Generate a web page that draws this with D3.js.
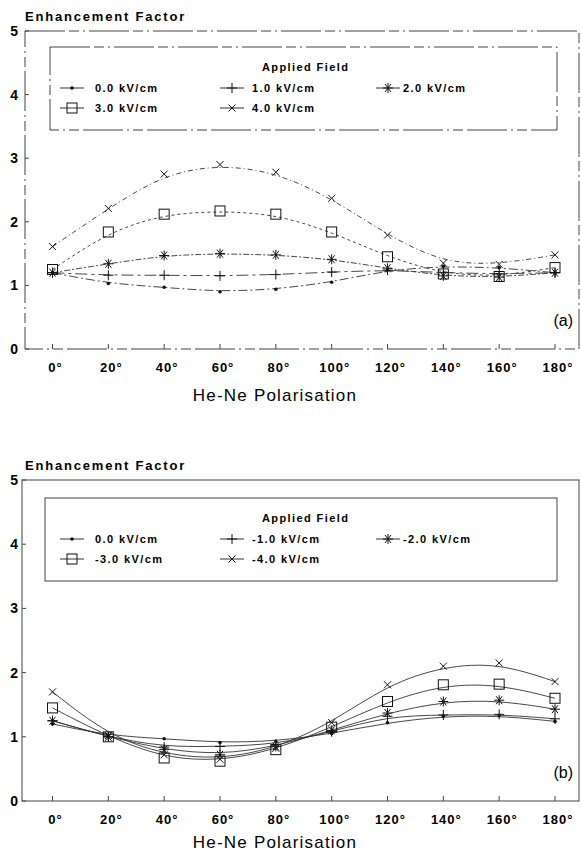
<!DOCTYPE html>
<html>
<head>
<meta charset="utf-8">
<script src="https://cdn.jsdelivr.net/npm/d3@7"></script>
<style>
  body { margin: 0; background: #fff; }
  svg { font-family: "Liberation Sans", Arial, sans-serif; }
</style>
</head>
<body>
<svg id="chart" width="581" height="853"></svg>
<script>
// polarisation angles (degrees)
var angles = [0, 20, 40, 60, 80, 100, 120, 140, 160, 180]
var xTickLabels = ['0°', '20°', '40°', '60°', '80°', '100°', '120°', '140°', '160°', '180°']
var yTicks = [0, 1, 2, 3, 4, 5]

// panel (a): positive applied field
var fieldsA = ['0.0 kV/cm', '1.0 kV/cm', '2.0 kV/cm', '3.0 kV/cm', '4.0 kV/cm']
var a00 = [1.20, 1.03, 0.97, 0.90, 0.94, 1.05, 1.24, 1.30, 1.28, 1.20]
var a10 = [1.20, 1.16, 1.16, 1.15, 1.17, 1.21, 1.24, 1.20, 1.18, 1.20]
var a20 = [1.20, 1.34, 1.47, 1.50, 1.48, 1.41, 1.27, 1.15, 1.13, 1.20]
var a30 = [1.25, 1.84, 2.12, 2.17, 2.12, 1.84, 1.45, 1.18, 1.14, 1.28]
var a40 = [1.61, 2.21, 2.75, 2.90, 2.78, 2.37, 1.79, 1.35, 1.33, 1.48]

// panel (b): negative applied field
var fieldsB = ['0.0 kV/cm', '-1.0 kV/cm', '-2.0 kV/cm', '-3.0 kV/cm', '-4.0 kV/cm']
var b00 = [1.20, 1.02, 0.97, 0.91, 0.93, 1.05, 1.22, 1.32, 1.33, 1.24]
var b10 = [1.25, 1.00, 0.84, 0.85, 0.88, 1.08, 1.32, 1.34, 1.35, 1.28]
var b20 = [1.25, 1.00, 0.80, 0.72, 0.85, 1.10, 1.37, 1.55, 1.57, 1.43]
var b30 = [1.45, 1.00, 0.67, 0.62, 0.80, 1.15, 1.55, 1.81, 1.82, 1.60]
var b40 = [1.70, 1.02, 0.72, 0.65, 0.82, 1.22, 1.81, 2.10, 2.15, 1.86]

var svg = d3.select('#chart')

var x = d3.scaleLinear().domain([0, 180]).range([52.5, 555])

var markers = ['dot', 'plus', 'star', 'square', 'cross']
var dashesA = ['9,3,2,3', '12,4,3,4', '6,2,2,2', '3,3', '5,3,1,3']

function drawMarker (g, type, cx, cy) {
  var m = g.append('g').attr('transform', 'translate(' + cx + ',' + cy + ')')
    .attr('stroke', '#111').attr('fill', 'none').attr('stroke-width', 1)
  if (type === 'dot') {
    m.append('circle').attr('r', 1.8).attr('fill', '#111').attr('stroke', 'none')
  } else if (type === 'plus') {
    m.append('path').attr('d', 'M-5,0H5M0,-5V5')
  } else if (type === 'star') {
    m.append('path').attr('d', 'M-5,0H5M-3,-4L3,4M3,-4L-3,4M0,-5V5')
  } else if (type === 'square') {
    m.append('rect').attr('x', -5).attr('y', -5).attr('width', 10).attr('height', 10)
  } else {
    m.append('path').attr('d', 'M-3.5,-3.5L3.5,3.5M3.5,-3.5L-3.5,3.5')
  }
}

function drawPanel (cfg) {
  var g = svg.append('g')
  var y = d3.scaleLinear().domain([0, 5]).range([cfg.bottom, cfg.top])

  // frame
  g.append('rect')
    .attr('x', cfg.left).attr('y', cfg.top)
    .attr('width', 579 - cfg.left).attr('height', cfg.bottom - cfg.top)
    .attr('fill', 'none').attr('stroke', '#444').attr('stroke-width', 1)
    .style('stroke-dasharray', cfg.frameDash)

  // y ticks
  g.append('g').selectAll('line').data(yTicks).enter().append('line')
    .attr('x1', cfg.left).attr('x2', cfg.left + 4)
    .attr('y1', function (d) { return y(d) }).attr('y2', function (d) { return y(d) })
    .attr('stroke', '#444')
  g.append('g').selectAll('text').data(yTicks).enter().append('text')
    .attr('x', 18).attr('y', function (d) { return y(d) + 5 })
    .attr('text-anchor', 'end').attr('font-size', 14).attr('font-weight', 'bold')
    .text(function (d) { return d })

  // x ticks
  g.append('g').selectAll('line').data(angles).enter().append('line')
    .attr('x1', function (d) { return x(d) }).attr('x2', function (d) { return x(d) })
    .attr('y1', cfg.bottom).attr('y2', cfg.bottom - 5)
    .attr('stroke', '#444')
  g.append('g').selectAll('text').data(angles).enter().append('text')
    .attr('x', function (d) { return x(d) + 3 }).attr('y', cfg.bottom + 23)
    .attr('text-anchor', 'middle').attr('font-size', 13).attr('font-weight', 'bold')
    .style('letter-spacing', '1px')
    .text(function (d, i) { return xTickLabels[i] })

  g.append('text')
    .attr('x', 25).attr('y', cfg.top - 10)
    .attr('font-size', 13).attr('font-weight', 'bold').style('letter-spacing', '1.8px')
    .text('Enhancement Factor')

  g.append('text')
    .attr('x', 275).attr('y', cfg.titleY)
    .attr('text-anchor', 'middle').attr('font-size', 17).style('letter-spacing', '1.2px')
    .text('He-Ne Polarisation')

  g.append('text')
    .attr('x', 573).attr('y', cfg.bottom - 23)
    .attr('text-anchor', 'end').attr('font-size', 16)
    .text(cfg.tag)

  // legend
  var lg = g.append('g')
  lg.append('rect')
    .attr('x', cfg.legLeft).attr('y', cfg.legTop)
    .attr('width', 557 - cfg.legLeft).attr('height', 83)
    .attr('fill', '#fff').attr('stroke', '#444').attr('stroke-width', 1)
    .style('stroke-dasharray', cfg.frameDash)
  lg.append('text')
    .attr('x', 262).attr('y', cfg.legTop + 24)
    .attr('font-size', 11).attr('font-weight', 'bold').style('letter-spacing', '1.4px')
    .text('Applied Field')
  var colSym = [72, 232, 388], colText = [95, 252, 403]
  cfg.fields.forEach(function (f, i) {
    var col = i < 3 ? i : i - 3, row = i < 3 ? 0 : 1
    var ly = cfg.legTop + 45 + row * 20
    lg.append('line')
      .attr('x1', colSym[col] - 12).attr('x2', colSym[col] + 12)
      .attr('y1', ly - 4).attr('y2', ly - 4)
      .attr('stroke', '#333').attr('stroke-width', 1)
    drawMarker(lg, markers[i], colSym[col], ly - 4)
    lg.append('text')
      .attr('x', colText[col]).attr('y', ly)
      .attr('font-size', 11).attr('font-weight', 'bold').style('letter-spacing', '1.4px')
      .text(f)
  })

  // curves and markers
  var line = d3.line()
    .x(function (d, i) { return x(angles[i]) })
    .y(function (d) { return y(d) })
    .curve(d3.curveBasis)

  cfg.series.forEach(function (s, i) {
    g.append('path')
      .datum(s)
      .attr('d', line)
      .attr('fill', 'none')
      .attr('stroke', '#333')
      .attr('stroke-width', 0.9)
      .style('stroke-dasharray', cfg.lineDash ? cfg.lineDash[i] : null)
    s.forEach(function (v, j) {
      drawMarker(g, markers[i], x(angles[j]), y(v))
    })
  })
}

drawPanel({
  top: 31, bottom: 349, left: 25,
  legLeft: 50, legTop: 47,
  frameDash: '40,4,10,4,2,4',
  fields: fieldsA,
  series: [a00, a10, a20, a30, a40],
  lineDash: dashesA,
  tag: '(a)',
  titleY: 401
})

drawPanel({
  top: 480, bottom: 801, left: 22,
  legLeft: 45, legTop: 498,
  frameDash: null,
  fields: fieldsB,
  series: [b00, b10, b20, b30, b40],
  lineDash: null,
  tag: '(b)',
  titleY: 848
})
</script>
</body>
</html>
